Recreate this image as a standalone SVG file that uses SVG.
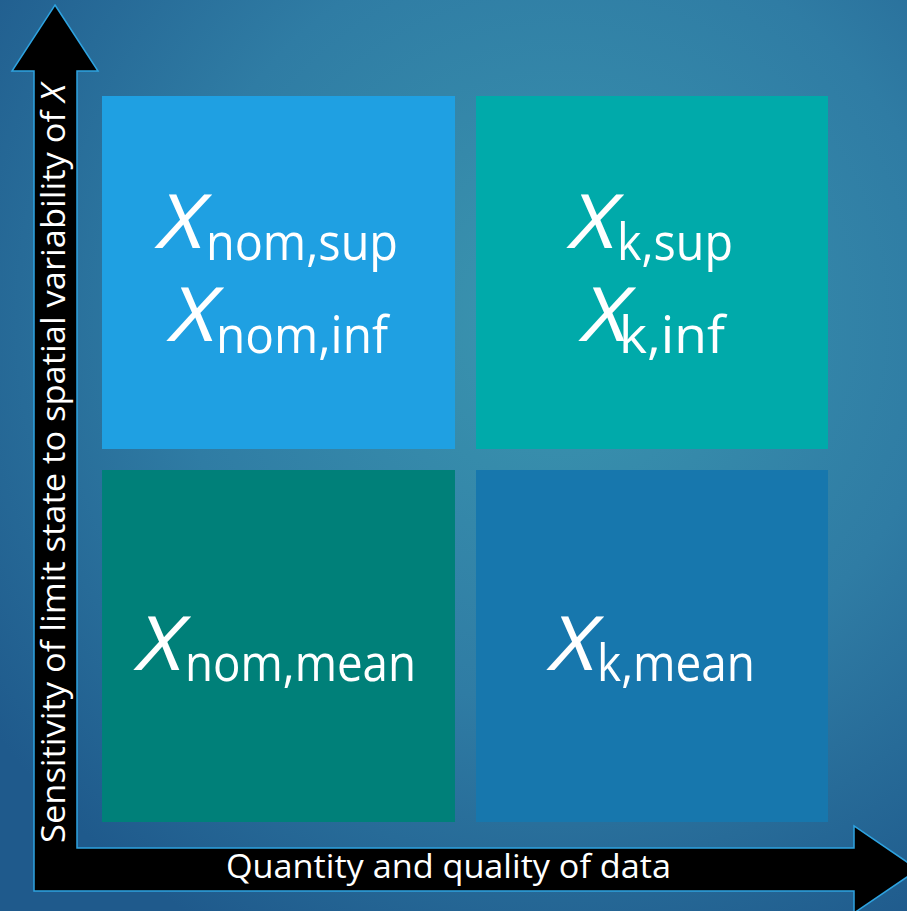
<svg xmlns="http://www.w3.org/2000/svg" width="907" height="911" viewBox="0 0 907 911">
  <defs>
    <radialGradient id="bg" cx="560" cy="320" r="700" gradientUnits="userSpaceOnUse">
      <stop offset="0" stop-color="#3b96b0"/>
      <stop offset="0.55" stop-color="#2f7ca4"/>
      <stop offset="1" stop-color="#1f5a8c"/>
    </radialGradient>
  </defs>
  <style>
    .big { font-family: "Open Sans", "Noto Sans", sans-serif; fill: #ffffff; }
    .X { font-style: italic; font-size: 75px; }
    .sub { font-size: 52px; }
    .axis { font-family: "Open Sans", "Noto Sans", sans-serif; fill: #ffffff; font-size: 33px; }
  </style>
  <rect x="0" y="0" width="907" height="911" fill="url(#bg)"/>

  <g id="arrows">
    <polygon points="55,5 98,71 77,71 77,848 854,848 854,826 918,869.5 854,913 854,891 34,891 34,71 12,71" fill="#000000" stroke="#2ea3e0" stroke-width="1.5" stroke-linejoin="miter"/>
  </g>

  <g id="box-nom-supinf">
    <rect x="102" y="96" width="353" height="353" fill="#1fa0e2"/>
    <text class="big"><tspan class="X" x="159" y="248" textLength="46" lengthAdjust="spacingAndGlyphs">X</tspan><tspan class="sub" x="206" y="260" textLength="192" lengthAdjust="spacingAndGlyphs">nom,sup</tspan></text>
    <text class="big"><tspan class="X" x="171" y="341" textLength="46" lengthAdjust="spacingAndGlyphs">X</tspan><tspan class="sub" x="216" y="353" textLength="172" lengthAdjust="spacingAndGlyphs">nom,inf</tspan></text>
  </g>

  <g id="box-k-supinf">
    <rect x="476" y="96" width="352" height="353" fill="#00aaaa"/>
    <text class="big"><tspan class="X" x="571" y="248" textLength="46" lengthAdjust="spacingAndGlyphs">X</tspan><tspan class="sub" x="617" y="260" textLength="116" lengthAdjust="spacingAndGlyphs">k,sup</tspan></text>
    <text class="big"><tspan class="X" x="583" y="341" textLength="46" lengthAdjust="spacingAndGlyphs">X</tspan><tspan class="sub" x="619" y="353" textLength="106" lengthAdjust="spacingAndGlyphs">k,inf</tspan></text>
  </g>

  <g id="box-nom-mean">
    <rect x="102" y="470" width="353" height="352" fill="#008079"/>
    <text class="big"><tspan class="X" x="138" y="670" textLength="46" lengthAdjust="spacingAndGlyphs">X</tspan><tspan class="sub" x="185" y="681" textLength="231" lengthAdjust="spacingAndGlyphs">nom,mean</tspan></text>
  </g>

  <g id="box-k-mean">
    <rect x="476" y="470" width="352" height="352" fill="#1777ad"/>
    <text class="big"><tspan class="X" x="551" y="670" textLength="46" lengthAdjust="spacingAndGlyphs">X</tspan><tspan class="sub" x="597" y="681" textLength="158" lengthAdjust="spacingAndGlyphs">k,mean</tspan></text>
  </g>

  <g id="axis-labels">
    <text class="axis" x="226" y="878" textLength="445" lengthAdjust="spacingAndGlyphs">Quantity and quality of data</text>
    <text class="axis" transform="translate(65,843) rotate(-90)" x="0" y="0" textLength="759" lengthAdjust="spacingAndGlyphs">Sensitivity of limit state to spatial variability of <tspan font-style="italic">X</tspan></text>
  </g>
</svg>
